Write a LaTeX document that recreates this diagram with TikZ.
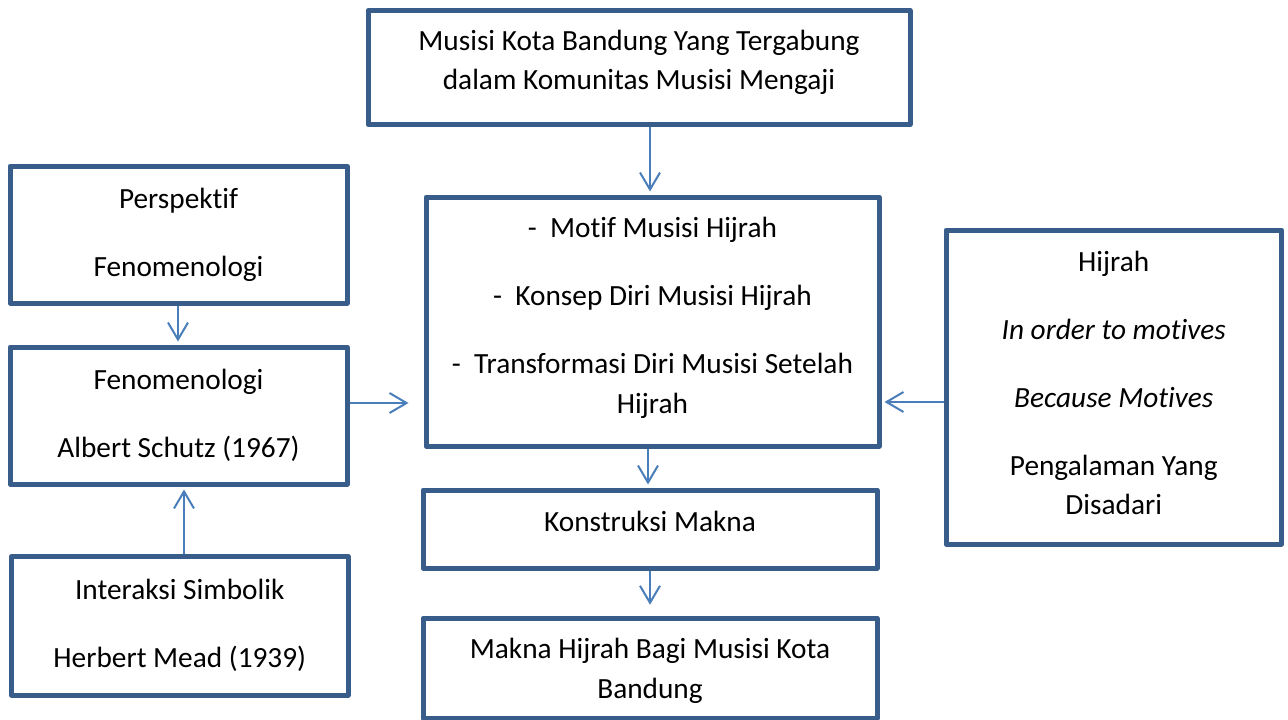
\documentclass[tikz,border=0pt]{standalone}
\usepackage{fontspec}
\setmainfont{Carlito}[Ligatures=NoCommon]
\usetikzlibrary{arrows.meta}
\definecolor{boxline}{HTML}{385D8A}
\definecolor{arrowline}{HTML}{4A7EBB}
\begin{document}
\begin{tikzpicture}[x=1pt,y=-1pt,
  box/.style={draw=boxline, line width=5pt, line join=round, rectangle, inner sep=0pt,
    align=center, font=\fontsize{29.3}{39.5}\selectfont, fill=white},
  conn/.style={draw=arrowline, line width=2pt, -{Straight Barb[length=17pt,width=20pt]}}
]
\useasboundingbox (0,0) rectangle (1288,720);
\fill[white] (0,0) rectangle (1288,720);

\node[box, minimum width=542pt, minimum height=114pt, text depth=15pt] (top) at (639,67.5)
  {Musisi Kota Bandung Yang Tergabung\\dalam Komunitas Musisi Mengaji};
\node[box, minimum width=337pt, minimum height=137pt] (persp) at (178.5,234.5)
  {Perspektif\\[28.5pt]Fenomenologi};
\node[box, minimum width=337pt, minimum height=137pt] (fen) at (178.5,415.5)
  {Fenomenologi\\[28.5pt]Albert Schutz (1967)};
\node[box, minimum width=336.5pt, minimum height=138.5pt] (inter) at (179.75,625.75)
  {Interaksi Simbolik\\[28.5pt]Herbert Mead (1939)};
\node[box, minimum width=453pt, minimum height=249pt, text depth=12pt] (mid) at (652.5,321.5)
  {-\ \ Motif Musisi Hijrah\\[28.5pt]-\ \ Konsep Diri Musisi Hijrah\\[28.5pt]-\ \ Transformasi Diri Musisi Setelah\\Hijrah};
\node[box, minimum width=454pt, minimum height=78pt, text depth=15pt] (kons) at (650,529)
  {Konstruksi Makna};
\node[box, minimum width=454pt, minimum height=100.5pt, text depth=0pt] (makna) at (650,668.5)
  {Makna Hijrah Bagi Musisi Kota\\Bandung};
\node[box, minimum width=335.5pt, minimum height=314pt, text depth=8pt] (hij) at (1113.75,387)
  {Hijrah\\[28.5pt]\textit{In order to motives}\\[28.5pt]\textit{Because Motives}\\[28.5pt]Pengalaman Yang\\Disadari};

\coordinate (ax1) at (650,0);
\coordinate (ax2) at (178,0);
\coordinate (ax3) at (184,0);
\coordinate (ay4) at (0,403);
\coordinate (ay5) at (0,402);
\coordinate (ax6) at (648,0);
\coordinate (ax7) at (650,0);

\draw[conn, shorten >=3pt] (top.south -| ax1) -- (mid.north -| ax1);
\draw[conn, shorten >=3pt] (persp.south -| ax2) -- (fen.north -| ax2);
\draw[conn, shorten >=3pt] (inter.north -| ax3) -- (fen.south -| ax3);
\draw[conn, shorten >=15pt] (fen.east |- ay4) -- (mid.west |- ay4);
\draw[conn, shorten >=3pt] (hij.west |- ay5) -- (mid.east |- ay5);
\draw[conn, shorten >=3pt] (mid.south -| ax6) -- (kons.north -| ax6);
\draw[conn, shorten >=11pt] (kons.south -| ax7) -- (makna.north -| ax7);
\end{tikzpicture}
\end{document}
